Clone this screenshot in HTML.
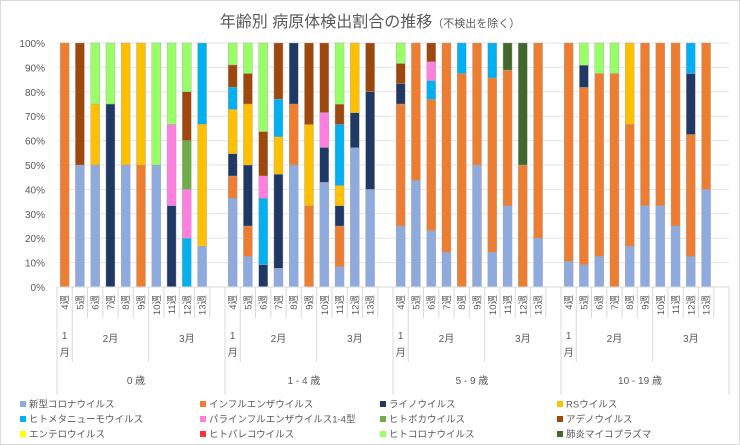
<!DOCTYPE html>
<html><head><meta charset="utf-8">
<style>
html,body{margin:0;padding:0;background:#fff;}
svg{display:block;font-family:"Liberation Sans","Noto Sans CJK JP",sans-serif;}
</style></head><body>
<svg id="s" width="740" height="445" viewBox="0 0 740 445" xmlns="http://www.w3.org/2000/svg">
<rect x="0.5" y="0.5" width="739" height="444" fill="#fff" stroke="#d9d9d9"/>
<text x="370" y="27" text-anchor="middle" font-size="16" fill="#595959">年齢別 病原体検出割合の推移<tspan font-size="11">（不検出を除く）</tspan></text>
</svg>
<script>
var C={c:"#8faadc",f:"#ed7d31",r:"#203864",rs:"#ffc000",h:"#00b0f0",p:"#ff7fdf",b:"#70ad47",a:"#9e480e",e:"#ffff00",pe:"#ff3333",hc:"#99ff66",m:"#43682b"};
var D=[
[[["f",100]],[["c",50],["a",50]],[["c",50],["rs",25],["hc",25]],[["r",75],["hc",25]],[["c",50],["rs",50]],[["f",50],["rs",50]],[["c",50],["hc",50]],[["r",33.3],["p",33.3],["hc",33.4]],[["h",20],["p",20],["b",20],["a",20],["hc",20]],[["c",16.7],["rs",50],["h",33.3]]],
[[["c",36.4],["f",9.1],["r",9.1],["rs",18.2],["h",9.1],["a",9.1],["hc",9]],[["c",12.5],["f",12.5],["r",25],["rs",25],["a",12.5],["hc",12.5]],[["r",9.1],["h",27.3],["p",9.1],["a",18.2],["hc",36.3]],[["c",7.7],["r",38.5],["rs",15.4],["h",15.4],["a",23]],[["c",50],["f",25],["r",25]],[["f",33.3],["rs",33.3],["a",33.4]],[["c",42.9],["r",14.3],["p",14.3],["a",28.5]],[["c",8.3],["f",16.7],["r",8.3],["rs",8.3],["h",25],["a",8.3],["hc",25.1]],[["c",57.1],["r",14.3],["rs",28.6]],[["c",40],["r",40],["a",20]]],
[[["c",25],["f",50],["r",8.3],["a",8.3],["hc",8.4]],[["c",43.7],["f",56.3]],[["c",23.1],["f",53.8],["h",7.7],["p",7.7],["a",7.7]],[["c",14.3],["f",85.7]],[["f",87.5],["h",12.5]],[["c",50],["f",50]],[["c",14.3],["f",71.4],["h",14.3]],[["c",33.3],["f",55.6],["m",11.1]],[["f",50],["m",50]],[["c",20],["f",80]]],
[[["c",10.5],["f",89.5]],[["c",9.1],["f",72.7],["r",9.1],["hc",9.1]],[["c",12.5],["f",75],["hc",12.5]],[["f",87.5],["hc",12.5]],[["c",16.7],["f",50],["rs",33.3]],[["c",33.3],["f",66.7]],[["c",33.3],["f",66.7]],[["c",25],["f",75]],[["c",12.5],["f",50],["r",25],["h",12.5]],[["c",40],["f",60]]]
];
var s=document.getElementById("s"),h="";
var X0=57,GW=168,SW=GW/11,Y0=287,Y1=43,H=Y0-Y1;
for(var i=0;i<=10;i++){var y=Y0-H*i/10;h+='<line x1="'+X0+'" x2="729" y1="'+y+'" y2="'+y+'" stroke="#e3e3e3" stroke-width="1"/>';
h+='<text x="45" y="'+(y+4)+'" text-anchor="end" font-size="10" fill="#595959">'+(i*10)+'%</text>';}
var ages=["0 歳","1 - 4 歳","5 - 9 歳","10 - 19 歳"];
for(var g=0;g<4;g++){var gx=X0+g*GW;
 for(var k=0;k<10;k++){var bx=gx+SW*k+SW/2-4.5,acc=0;
  D[g][k].forEach(function(p){var hh=H*p[1]/100,yy=Y0-H*(acc+p[1])/100;acc+=p[1];
   h+='<rect x="'+bx+'" y="'+yy+'" width="9" height="'+hh+'" fill="'+C[p[0]]+'" stroke="#a6a6a6" stroke-width="0.4"/>';});
  var lx=gx+SW*k+SW/2+3.5;
  h+='<text transform="translate('+lx+',295) rotate(-90)" text-anchor="end" font-size="9.5" fill="#595959">'+(k+4)+'週</text>';
 }
 for(var k=0;k<=11;k++){var x=gx+SW*k;var y2=(k==0)?395:(k==1||k==6)?362:318;if(k==11)continue;
  h+='<line x1="'+x+'" x2="'+x+'" y1="'+Y0+'" y2="'+y2+'" stroke="#d9d9d9"/>';}
 h+='<text x="'+(gx+SW/2)+'" y="339" text-anchor="middle" font-size="10" fill="#595959">1</text>';
 h+='<text x="'+(gx+SW/2)+'" y="356" text-anchor="middle" font-size="10" fill="#595959">月</text>';
 h+='<text x="'+(gx+SW*3.5)+'" y="342" text-anchor="middle" font-size="10" fill="#595959">2月</text>';
 h+='<text x="'+(gx+SW*8.5)+'" y="342" text-anchor="middle" font-size="10" fill="#595959">3月</text>';
 h+='<text x="'+(gx+GW/2-5)+'" y="384" text-anchor="middle" font-size="10" fill="#595959">'+ages[g]+'</text>';
}
h+='<line x1="729" x2="729" y1="'+Y0+'" y2="395" stroke="#d9d9d9"/>';
h+='<line x1="'+X0+'" x2="729" y1="'+Y0+'" y2="'+Y0+'" stroke="#d9d9d9"/>';
var L=[["c","新型コロナウイルス"],["f","インフルエンザウイルス"],["r","ライノウイルス"],["rs","RSウイルス"],["h","ヒトメタニューモウイルス"],["p","パラインフルエンザウイルス1-4型"],["b","ヒトボカウイルス"],["a","アデノウイルス"],["e","エンテロウイルス"],["pe","ヒトパレコウイルス"],["hc","ヒトコロナウイルス"],["m","肺炎マイコプラズマ"]];
var LX=[20,200,380,557];
L.forEach(function(l,i){var x=LX[i%4],y=407+Math.floor(i/4)*15;
 h+='<rect x="'+x+'" y="'+(y-6)+'" width="6" height="6" fill="'+C[l[0]]+'"/>';
 h+='<text x="'+(x+9)+'" y="'+(y+0.5)+'" font-size="9.5" fill="#595959">'+l[1]+'</text>';});
s.insertAdjacentHTML("beforeend",h);
</script>
</body></html>
